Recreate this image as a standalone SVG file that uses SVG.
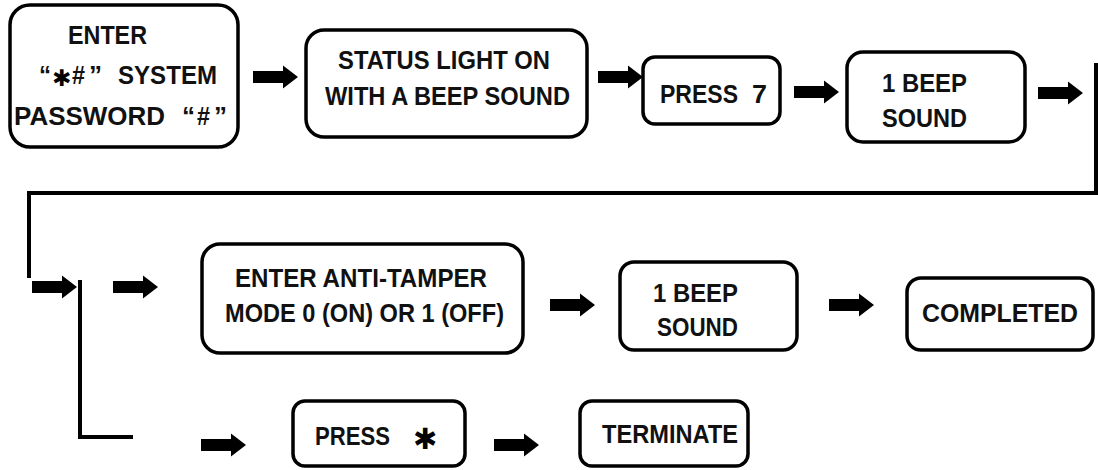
<svg xmlns="http://www.w3.org/2000/svg" xmlns:xlink="http://www.w3.org/1999/xlink" width="1098" height="470" viewBox="0 0 1098 470">
<style>
.box{fill:#fff;stroke:#000;stroke-width:3.5}
.t{font-family:"Liberation Sans",Arial,sans-serif;font-size:26px;font-weight:bold;fill:#111}
.line{fill:none;stroke:#000;stroke-width:4}
.sym{font-family:"DejaVu Sans",sans-serif;font-weight:bold}
</style>
<defs>
<path id="arr" d="M0,-6 H30 V-11.5 L45,0 L30,11.5 V6 H0 Z" fill="#000"/>
</defs>
<rect width="1098" height="470" fill="#fff"/>
<g id="n1">
<rect class="box" x="10" y="5" width="228" height="142" rx="20"/>
<text class="t" x="68" y="44" textLength="79" lengthAdjust="spacingAndGlyphs">ENTER</text>
<text class="t" x="39" y="84" textLength="12" lengthAdjust="spacingAndGlyphs">“</text>
<text class="sym" x="52" y="86" font-size="23">✱</text>
<text class="t" x="72" y="84" textLength="13" lengthAdjust="spacingAndGlyphs">#</text>
<text class="t" x="89" y="84">”</text>
<text class="t" x="118" y="84" textLength="99" lengthAdjust="spacingAndGlyphs">SYSTEM</text>
<text class="t" x="14" y="125" textLength="151" lengthAdjust="spacingAndGlyphs">PASSWORD</text>
<text class="t" x="182" y="125">“</text>
<text class="t" x="197" y="125" textLength="13" lengthAdjust="spacingAndGlyphs">#</text>
<text class="t" x="214" y="125">”</text>
</g>
<g id="n2">
<rect class="box" x="306" y="30" width="281" height="107" rx="18"/>
<text class="t" x="338" y="69" textLength="212" lengthAdjust="spacingAndGlyphs">STATUS LIGHT ON</text>
<text class="t" x="325" y="105" textLength="245" lengthAdjust="spacingAndGlyphs">WITH A BEEP SOUND</text>
</g>
<g id="n3">
<rect class="box" x="643" y="57" width="137" height="67" rx="12"/>
<text class="t" x="660" y="103" textLength="78" lengthAdjust="spacingAndGlyphs">PRESS</text>
<text class="t" x="752" y="103" textLength="15" lengthAdjust="spacingAndGlyphs">7</text>
</g>
<g id="n4">
<rect class="box" x="847" y="52" width="178" height="90" rx="16"/>
<text class="t" x="882" y="92" textLength="85" lengthAdjust="spacingAndGlyphs">1 BEEP</text>
<text class="t" x="882" y="127" textLength="85" lengthAdjust="spacingAndGlyphs">SOUND</text>
</g>
<g id="n5">
<rect class="box" x="202" y="244" width="321" height="109" rx="18"/>
<text class="t" x="235" y="287" textLength="252" lengthAdjust="spacingAndGlyphs">ENTER ANTI-TAMPER</text>
<text class="t" x="225" y="322" textLength="279" lengthAdjust="spacingAndGlyphs">MODE 0 (ON) OR 1 (OFF)</text>
</g>
<g id="n6">
<rect class="box" x="620" y="262" width="177" height="88" rx="14"/>
<text class="t" x="653" y="302" textLength="85" lengthAdjust="spacingAndGlyphs">1 BEEP</text>
<text class="t" x="657" y="336" textLength="81" lengthAdjust="spacingAndGlyphs">SOUND</text>
</g>
<g id="n7">
<rect class="box" x="907" y="278" width="186" height="72" rx="14"/>
<text class="t" x="922" y="322" textLength="156" lengthAdjust="spacingAndGlyphs">COMPLETED</text>
</g>
<g id="n8">
<rect class="box" x="293" y="401" width="172" height="65" rx="12"/>
<text class="t" x="315" y="445" textLength="75" lengthAdjust="spacingAndGlyphs">PRESS</text>
<text class="sym" x="413" y="449" font-size="29">✱</text>
</g>
<g id="n9">
<rect class="box" x="580" y="401" width="168" height="65" rx="12"/>
<text class="t" x="602" y="443" textLength="136" lengthAdjust="spacingAndGlyphs">TERMINATE</text>
</g>
<g id="connectors">
<polyline class="line" points="1096,63 1096,193 29,193 29,278"/>
<polyline class="line" points="80,280 80,437 133,437"/>
<use xlink:href="#arr" x="253" y="77"/>
<use xlink:href="#arr" x="598" y="77"/>
<use xlink:href="#arr" x="794" y="92"/>
<use xlink:href="#arr" x="1038" y="93"/>
<use xlink:href="#arr" x="32" y="287"/>
<use xlink:href="#arr" x="113" y="287"/>
<use xlink:href="#arr" x="550" y="305"/>
<use xlink:href="#arr" x="829" y="305"/>
<use xlink:href="#arr" x="201" y="445"/>
<use xlink:href="#arr" x="494" y="445"/>
</g>
</svg>
